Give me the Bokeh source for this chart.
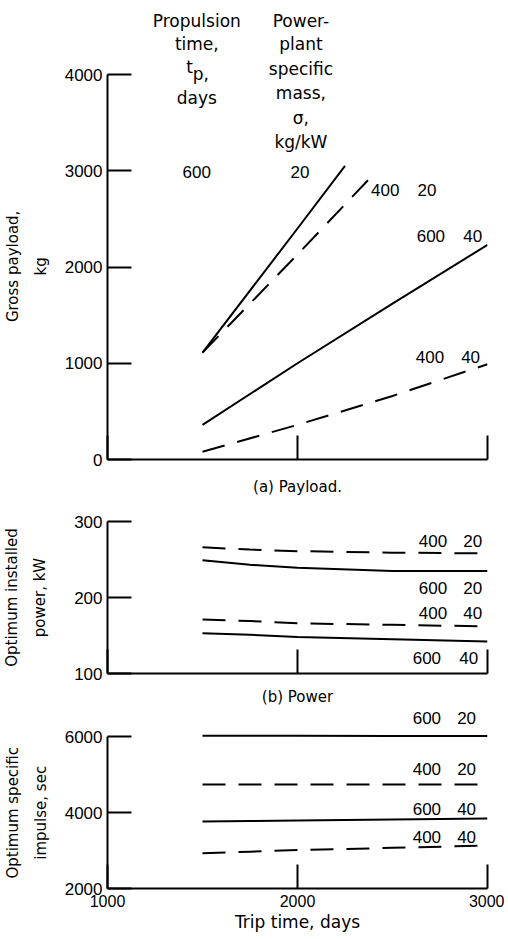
from bokeh.plotting import figure
from bokeh.models import Range1d, FixedTicker, Label
from bokeh.layouts import column
from bokeh.embed import file_html
from bokeh.resources import INLINE

# ---------------- data ----------------
x_ticks = [1000, 2000, 3000]

# (a) Gross payload, kg
trip_a_600_20 = [1500, 2000, 2250]
payload_600_20 = [1110, 2400, 3050]
trip_a_400_20 = [1500, 2000, 2375]
payload_400_20 = [1110, 2130, 2910]
trip_a = [1500, 2000, 2500, 3000]
payload_600_40 = [360, 1000, 1620, 2230]
payload_400_40 = [80, 360, 660, 990]
payload_ticks = [0, 1000, 2000, 3000, 4000]

# (b) Optimum installed power, kW
trip_b = [1500, 1750, 2000, 2500, 3000]
power_400_20 = [266, 263, 261, 259, 258]
power_600_20 = [249, 243, 239, 235, 235]
power_400_40 = [171, 169, 166, 164, 162]
power_600_40 = [153, 151, 148, 145, 142]
power_ticks = [100, 200, 300]

# (c) Optimum specific impulse, sec
trip_c = [1500, 1750, 2000, 2500, 3000]
isp_600_20 = [6020, 6020, 6020, 6015, 6015]
isp_400_20 = [4740, 4740, 4740, 4740, 4740]
isp_600_40 = [3760, 3775, 3790, 3815, 3840]
isp_400_40 = [2930, 2970, 3010, 3070, 3130]
isp_ticks = [2000, 4000, 6000]

# curve labels, order: 600/20, 400/20, 600/40, 400/40
tp_labels = ["600", "400", "600", "400"]        # propulsion time, days
sigma_labels = ["20", "20", "40", "40"]         # specific mass, kg/kW

header_tp = ["Propulsion", "time,", "days"]
header_sigma = ["Power-", "plant", "specific", "mass,", "\u03c3,", "kg/kW"]

# ---------------- label anchor positions (layout, data units) ----------------
hdr_tp_x, hdr_tp_y = 1470, [4561, 4312, 3751]
hdr_t_xy, hdr_p_xy = (1449, 4073), (1449, 4005)
hdr_sig_x, hdr_sig_y = 2018, [4561, 4322, 4062, 3803, 3543, 3294]

lab_a_tp_x = [1470, 2462, 2702, 2697]
lab_a_sig_x = [2013, 2681, 2922, 2911]
lab_a_y = [2982, 2795, 2327, 1060]

lab_b_tp_x = [2713, 2713, 2681, 2713]
lab_b_sig_x = [2922, 2922, 2901, 2922]
lab_b_y = [213, 275, 120, 180]

lab_c_tp_x = [2681, 2681, 2681, 2681]
lab_c_sig_x = [2890, 2890, 2890, 2890]
lab_c_y = [6490, 5158, 4105, 3368]

# ---------------- styling helpers ----------------
NUM_FONT = "Liberation Sans"
TXT_FONT = "DejaVu Sans"
SOLID = "solid"
DASH = "23 13"
LW = 2
NB = "\u00a0"


def pad(label, n):
    # trailing no-break spaces move a rotated, centred label along its axis
    return "\n".join(line + NB * n for line in label.split("\n"))


def make_fig(frame_h, y0, y1, top, bottom, ticks, bounds, ylabel, ylabel_standoff,
             xlabel, xlabel_standoff, show_xlabels):
    p = figure(frame_width=380, frame_height=frame_h,
               x_range=Range1d(1000, 3000), y_range=Range1d(y0, y1),
               min_border_left=107, min_border_right=17,
               min_border_top=top, min_border_bottom=bottom,
               output_backend="svg", toolbar_location=None)
    p.grid.visible = False
    p.outline_line_color = None
    p.background_fill_color = "white"
    p.border_fill_color = "white"
    p.xaxis.ticker = FixedTicker(ticks=x_ticks)
    p.yaxis.ticker = FixedTicker(ticks=ticks)
    p.yaxis.bounds = bounds
    for ax in (p.xaxis[0], p.yaxis[0]):
        ax.axis_line_width = LW
        ax.axis_line_color = "black"
        ax.major_tick_line_width = LW
        ax.major_tick_line_color = "black"
        ax.major_tick_in = 24
        ax.major_tick_out = 0
        ax.minor_tick_line_color = None
        ax.major_label_text_font = NUM_FONT
        ax.major_label_text_font_size = "17px"
        ax.major_label_text_color = "black"
        ax.axis_label_text_font_style = "normal"
        ax.axis_label_text_color = "black"
    ya = p.yaxis[0]
    ya.major_label_standoff = 5
    ya.axis_label = ylabel
    ya.axis_label_text_font = TXT_FONT
    ya.axis_label_text_font_size = "15px"
    ya.axis_label_text_line_height = 1.55
    ya.axis_label_standoff = ylabel_standoff
    xa = p.xaxis[0]
    xa.axis_label = xlabel
    xa.axis_label_text_font = TXT_FONT
    xa.axis_label_standoff = xlabel_standoff
    if show_xlabels:
        xa.major_label_standoff = 6
        xa.major_label_text_font_size = "16px"
        xa.axis_label_text_font_size = "17px"
    else:
        xa.major_label_text_color = None
        xa.major_label_text_font_size = "1px"
        xa.major_label_standoff = 0
        xa.axis_label_text_font_size = "15px"
    return p


def put(p, xs, ys, texts, font=NUM_FONT, size="17px", align="center"):
    for x, y, t in zip(xs, ys, texts):
        p.add_layout(Label(x=x, y=y, text=t, text_font=font, text_font_size=size,
                           text_align=align, text_baseline="middle",
                           text_color="black"))


# ---------------- (a) payload ----------------
pa = make_fig(453, 0, 4706.5, 6, 41, payload_ticks, (0, 4000),
              pad("Gross payload,\nkg", 14), 12, "(a) Payload.", 18, False)
pa.line(trip_a_600_20, payload_600_20, line_width=LW, color="black", line_dash=SOLID)
pa.line(trip_a_400_20, payload_400_20, line_width=LW, color="black", line_dash=DASH)
pa.line(trip_a, payload_600_40, line_width=LW, color="black", line_dash=SOLID)
pa.line(trip_a, payload_400_40, line_width=LW, color="black", line_dash=DASH)

put(pa, [hdr_tp_x] * 3, hdr_tp_y, header_tp, font=TXT_FONT)
put(pa, [hdr_t_xy[0]], [hdr_t_xy[1]], ["t"], font=TXT_FONT, align="right")
put(pa, [hdr_p_xy[0]], [hdr_p_xy[1]], ["p,"], font=TXT_FONT, align="left")
put(pa, [hdr_sig_x] * 6, hdr_sig_y, header_sigma, font=TXT_FONT)
put(pa, lab_a_tp_x, lab_a_y, tp_labels)
put(pa, lab_a_sig_x, lab_a_y, sigma_labels)

# ---------------- (b) power ----------------
pb = make_fig(152, 100, 300, 21, 34, power_ticks, (100, 300),
              "Optimum installed\npower, kW", 22, "(b) Power", 14, False)
pb.line(trip_b, power_400_20, line_width=LW, color="black", line_dash=DASH)
pb.line(trip_b, power_600_20, line_width=LW, color="black", line_dash=SOLID)
pb.line(trip_b, power_400_40, line_width=LW, color="black", line_dash=DASH)
pb.line(trip_b, power_600_40, line_width=LW, color="black", line_dash=SOLID)
put(pb, lab_b_tp_x, lab_b_y, tp_labels)
put(pb, lab_b_sig_x, lab_b_y, sigma_labels)

# ---------------- (c) specific impulse ----------------
pc = make_fig(180, 2000, 6737, 0, 47, isp_ticks, (2000, 6000),
              pad("Optimum specific\nimpulse, sec", 6), 12, "Trip time, days", 2, True)
pc.line(trip_c, isp_600_20, line_width=LW, color="black", line_dash=SOLID)
pc.line(trip_c, isp_400_20, line_width=LW, color="black", line_dash=DASH)
pc.line(trip_c, isp_600_40, line_width=LW, color="black", line_dash=SOLID)
pc.line(trip_c, isp_400_40, line_width=LW, color="black", line_dash=DASH)
put(pc, lab_c_tp_x, lab_c_y, tp_labels)
put(pc, lab_c_sig_x, lab_c_y, sigma_labels)

layout = column(pa, pb, pc)
open("out.html", "w").write(file_html(layout, INLINE))
